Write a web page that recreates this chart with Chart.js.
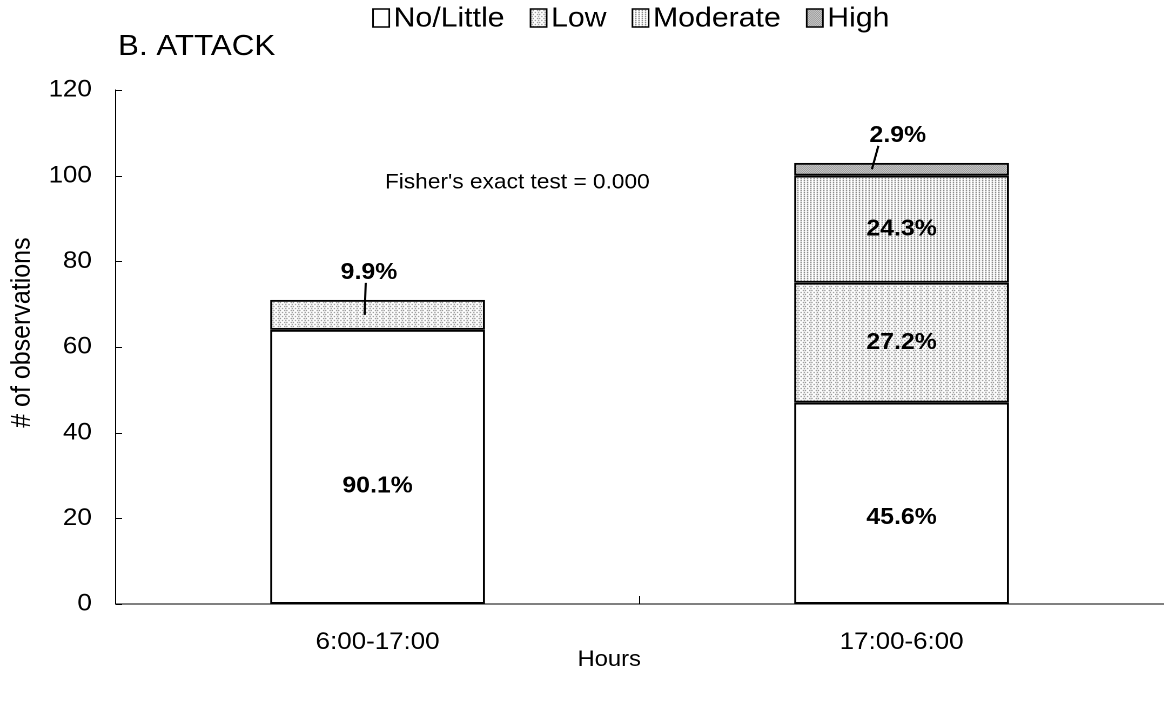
<!DOCTYPE html>
<html>
<head>
<meta charset="utf-8">
<script src="https://cdn.jsdelivr.net/npm/chart.js"></script>
<style>
    html, body { margin: 0; padding: 0; background: #fff; overflow: hidden; }
    #attackChart { display: block; }
</style>
</head>
<body>
<canvas id="attackChart"></canvas>
<script>
const hours     = ['6:00-17:00', '17:00-6:00'];
const noLittle  = [64, 47];
const low       = [7, 28];
const moderate  = [null, 25];
const high      = [null, 3];
const yTicks    = [0, 20, 40, 60, 80, 100, 120];
const seriesNames = ['No/Little', 'Low', 'Moderate', 'High'];
const chartTitle  = 'B. ATTACK';
const testNote    = "Fisher's exact test = 0.000";
const yTitle      = '# of observations';
const xTitle      = 'Hours';

// the scanned figure is a little wider than it is tall, so draw narrow and stretch sideways
const WIDTH   = 1169;
const HEIGHT  = 702;
const STRETCH = 1.08;
const FONT    = "'Liberation Sans', Arial, Helvetica, sans-serif";

const canvas = document.getElementById('attackChart');
canvas.style.width  = WIDTH + 'px';
canvas.style.height = HEIGHT + 'px';
canvas.width  = Math.round(WIDTH / STRETCH);
canvas.height = HEIGHT;
const toX = px => px / STRETCH;

function makePattern(rows, ink) {
    const c = document.createElement('canvas');
    c.width  = rows[0].length;
    c.height = rows.length;
    const g = c.getContext('2d');
    g.fillStyle = '#fff';
    g.fillRect(0, 0, c.width, c.height);
    g.fillStyle = ink;
    rows.forEach((row, y) => {
        for (let x = 0; x < row.length; x++) {
            if (row[x] === 'x') g.fillRect(x, y, 1, 1);
        }
    });
    return canvas.getContext('2d').createPattern(c, 'repeat');
}

const fills = [
    '#ffffff',
    makePattern(['x..x..', '......', '.x...x', '......'], '#555'),
    makePattern(['x..', '...'], '#333'),
    makePattern(['x.', '.x'], '#666')
];

const seriesData = [noLittle, low, moderate, high];

// small segments get their label above the stack with a leader line
const callouts = {
    '1-0': { dx: -8,   lineTop: -3,  lineBottom: -4 },
    '3-1': { dx: -3.5, lineTop: -18, lineBottom: -24 }
};

function line(ctx, x1, y1, x2, y2) {
    ctx.beginPath();
    ctx.moveTo(x1, y1);
    ctx.lineTo(x2, y2);
    ctx.stroke();
}

const decorations = {
    id: 'decorations',
    afterDatasetsDraw(chart) {
        const {ctx, chartArea, scales: {x, y}} = chart;
        ctx.save();
        ctx.strokeStyle = '#000';
        ctx.fillStyle   = '#000';
        ctx.lineWidth   = 1;

        // tick marks point into the plot
        yTicks.forEach(v => {
            const py = Math.round(y.getPixelForValue(v)) + 0.5;
            line(ctx, chartArea.left, py, chartArea.left + 6, py);
        });
        const mid = (x.getPixelForValue(0) + x.getPixelForValue(1)) / 2;
        line(ctx, mid, chartArea.bottom, mid, chartArea.bottom - 8);

        // percentage labels
        ctx.font         = `bold 23px ${FONT}`;
        ctx.textAlign    = 'center';
        ctx.textBaseline = 'middle';
        hours.forEach((h, j) => {
            const total = seriesData.reduce((s, arr) => s + (arr[j] || 0), 0);
            let base = 0;
            seriesData.forEach((arr, i) => {
                const v = arr[j];
                if (!v) return;
                const pct   = (v / total * 100).toFixed(1) + '%';
                const cx    = x.getPixelForValue(j);
                // the bottom segment's label sits a bit below its middle
                const share = i === 0 ? 0.43 : 0.5;
                const midPx = y.getPixelForValue(base + v * share);
                const c = callouts[i + '-' + j];
                if (c) {
                    const ly = y.getPixelForValue(total) - 27;
                    ctx.fillText(pct, cx + c.dx, ly);
                    ctx.lineWidth = 2;
                    line(ctx, cx + c.dx + c.lineTop, ly + 10, cx + c.dx + c.lineBottom, midPx);
                    ctx.lineWidth = 1;
                } else {
                    ctx.fillText(pct, cx, midPx);
                }
                base += v;
            });
        });

        // test note
        ctx.font      = `21px ${FONT}`;
        ctx.textAlign = 'left';
        ctx.fillText(testNote, chartArea.left + 0.257 * chartArea.width, y.getPixelForValue(98.4));

        // axis titles
        ctx.font      = `22px ${FONT}`;
        ctx.textAlign = 'center';
        ctx.fillText(xTitle, toX(609), 660);

        ctx.save();
        ctx.font = `25px ${FONT}`;
        ctx.translate(toX(22), chartArea.top + 0.472 * chartArea.height);
        ctx.rotate(-Math.PI / 2);
        ctx.fillText(yTitle, 0, 0);
        ctx.restore();

        // title
        ctx.font         = `29px ${FONT}`;
        ctx.textAlign    = 'left';
        ctx.textBaseline = 'alphabetic';
        ctx.fillText(chartTitle, toX(118), 55);

        // legend
        ctx.font = `28px ${FONT}`;
        const boxW = 15, boxH = 18, boxGap = 4, itemGap = 24;
        const widths = seriesNames.map(n => ctx.measureText(n).width);
        const total  = widths.reduce((s, w) => s + w + boxW + boxGap, 0) + itemGap * (seriesNames.length - 1);
        let lx = toX(631) - total / 2;
        const ly = 18;
        ctx.textBaseline = 'middle';
        seriesNames.forEach((n, i) => {
            ctx.fillStyle = fills[i];
            ctx.fillRect(lx, ly - boxH / 2, boxW, boxH);
            ctx.strokeStyle = '#000';
            ctx.lineWidth   = 1.5;
            ctx.strokeRect(lx, ly - boxH / 2, boxW, boxH);
            ctx.fillStyle = '#000';
            ctx.fillText(n, lx + boxW + boxGap, ly + 1);
            lx += boxW + boxGap + widths[i] + itemGap;
        });
        ctx.restore();
    }
};

Chart.defaults.font.family = FONT;
Chart.defaults.color       = '#000';

new Chart(canvas, {
    type: 'bar',
    data: {
        labels  : hours,
        datasets: seriesNames.map((name, i) => ({
            label          : name,
            data           : seriesData[i],
            backgroundColor: fills[i],
            borderColor    : '#000',
            borderWidth    : 2,
            borderSkipped  : false,
            barPercentage  : 0.41,
            categoryPercentage: 1
        }))
    },
    options: {
        responsive      : false,
        animation       : false,
        devicePixelRatio: 2,
        layout: {
            padding: { top: 90, right: 5, bottom: 0, left: 0 }
        },
        plugins: {
            legend : { display: false },
            title  : { display: false },
            tooltip: { enabled: false }
        },
        scales: {
            x: {
                stacked: true,
                grid   : { display: false, drawTicks: false },
                border : { display: true, color: '#000', width: 1 },
                ticks  : { font: { size: 24 }, padding: 24, color: '#000' },
                title  : { display: false },
                afterFit: s => { s.height = 98; }
            },
            y: {
                stacked: true,
                min    : 0,
                max    : 120,
                grid   : { display: false, drawTicks: false },
                border : { display: true, color: '#000', width: 1 },
                ticks  : { stepSize: 20, font: { size: 24 }, padding: 22, color: '#000' },
                title  : { display: false },
                afterFit: s => { s.width = 107; }
            }
        }
    },
    plugins: [decorations]
});
</script>
</body>
</html>
